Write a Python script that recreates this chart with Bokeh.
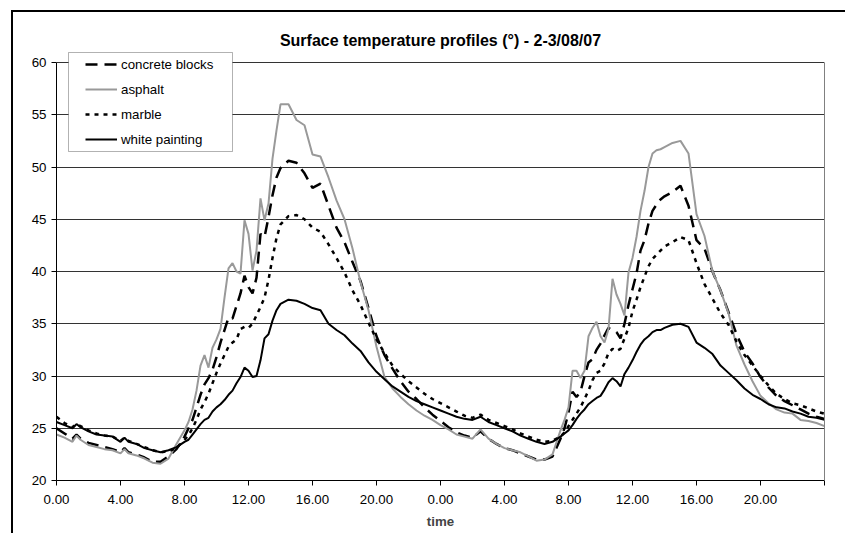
from bokeh.plotting import figure
from bokeh.models import Range1d, FixedTicker, Legend, LegendItem, BoxAnnotation, LinearAxis
from bokeh.embed import file_html
from bokeh.resources import INLINE

# ---------------- data (hours since 0.00 of day 1) ----------------
hours = [0, 0.5, 1, 1.25, 1.5, 2, 2.5, 3, 3.5, 4, 4.25, 4.5, 5, 5.5, 6, 6.5, 7, 7.5,
         8, 8.25, 8.5, 8.75, 9, 9.25, 9.5, 9.75, 10, 10.25, 10.5, 10.75, 11, 11.25,
         11.5, 11.75, 12, 12.25, 12.5, 12.75, 13, 13.25, 13.5, 13.75, 14,
         14.5, 15, 15.5, 16, 16.5, 17, 17.5, 18, 18.5, 19, 19.5, 20, 20.5, 21, 21.5,
         22, 22.5, 23, 23.5, 24, 24.5, 25, 25.5, 26, 26.5, 27, 27.5, 28, 28.5, 29,
         29.5, 30, 30.5, 31, 31.5,
         31.75, 32, 32.25, 32.5, 32.75, 33, 33.25, 33.5, 33.75, 34, 34.25, 34.5, 34.75,
         35, 35.25, 35.5, 35.75, 36, 36.25, 36.5, 36.75, 37, 37.25, 37.5, 37.75, 38,
         38.5, 39, 39.5, 40, 40.5, 41, 41.5, 42, 42.5, 43, 43.5, 44, 44.5, 45, 45.5,
         46, 46.5, 47, 47.5, 48]

concrete_blocks = [25.0, 24.5, 24.0, 24.4, 24.0, 23.6, 23.4, 23.2, 23.0, 22.7, 23.1, 22.7, 22.5, 22.2, 21.8, 21.8, 22.3, 23.0,
                   24.2, 25.0, 25.8, 27.0, 28.2, 29.2, 29.8, 30.6, 31.8, 33.2, 34.4, 35.6, 35.5, 36.7,
                   37.9, 39.6, 38.5, 37.9, 39.4, 43.6, 43.3, 45.2, 47.3, 49.0, 49.9,
                   50.6, 50.4, 49.4, 48.0, 48.4, 46.3, 44.2, 42.8, 40.9, 39.1, 36.5, 33.8, 32.0, 30.7, 29.5,
                   28.5, 27.8, 27.0, 26.3, 25.7, 25.1, 24.6, 24.3, 24.1, 24.7, 24.0, 23.5, 23.1, 22.9, 22.6,
                   22.3, 22.0, 22.0, 22.3, 24.0,
                   25.0, 26.5, 28.5, 28.0, 28.5, 30.0, 31.3, 31.6, 32.5, 33.1, 33.9, 34.6, 34.4,
                   34.2, 33.6, 35.0, 36.8, 38.3, 39.8, 42.0, 43.0, 44.6, 45.8, 46.4, 46.9, 47.2,
                   47.6, 48.2, 46.3, 43.0, 42.2, 40.0, 38.2, 36.1, 34.0, 32.3, 31.2, 29.9, 28.9, 28.1, 27.6,
                   27.2, 26.8, 26.4, 26.1, 25.9]

asphalt = [24.4, 24.1, 23.7, 24.3, 23.9, 23.4, 23.2, 23.0, 22.9, 22.6, 23.0, 22.6, 22.4, 22.1, 21.7, 21.6, 22.1, 23.5,
           24.8, 25.6, 26.8, 28.6, 31.0, 32.0, 30.8, 32.7, 33.5, 34.5, 37.5, 40.3, 40.8, 40.0,
           39.8, 44.9, 43.6, 40.1, 42.0, 47.0, 44.9, 46.5, 50.8, 53.5, 56.0,
           56.0, 54.5, 54.0, 51.2, 51.0, 49.0, 46.8, 45.0, 42.2, 39.0, 36.3, 32.8, 29.9, 28.8, 28.0,
           27.3, 26.7, 26.2, 25.8, 25.3, 24.9, 24.4, 24.2, 24.0, 24.9, 24.0, 23.5, 23.1, 22.9, 22.7,
           22.3, 21.9, 22.0, 22.5, 24.8,
           25.8, 27.0, 30.5, 30.5, 29.8, 30.5, 33.8, 34.6, 35.2, 33.8, 33.2, 34.5, 39.3,
           37.8, 36.9, 35.8, 39.9, 41.3, 43.3, 45.8, 47.7, 50.0, 51.3, 51.6, 51.7, 51.9,
           52.3, 52.5, 51.3, 45.5, 43.4, 40.0, 38.2, 36.0, 32.9, 31.1, 29.5, 28.1, 27.4, 26.8, 26.5,
           26.4, 25.8, 25.7, 25.5, 25.2]

marble = [26.1, 25.5, 25.1, 25.4, 25.2, 24.8, 24.5, 24.3, 24.2, 23.8, 24.1, 23.8, 23.5, 23.2, 22.9, 22.7, 22.8, 23.1,
          23.9, 24.3, 25.0, 25.8, 26.8, 27.5, 28.3, 29.3, 30.3, 31.2, 32.0, 32.8, 33.2, 33.5,
          34.5, 34.7, 34.6, 35.0, 35.8, 36.6, 37.5, 39.2, 41.3, 43.2, 44.5,
          45.3, 45.4, 45.0, 44.2, 43.8, 42.6, 41.3, 39.9, 38.2, 36.8, 35.1, 33.5, 32.2, 31.0, 30.2,
          29.5, 28.9, 28.3, 27.8, 27.4, 27.0, 26.6, 26.2, 26.0, 26.3, 25.8, 25.5, 25.2, 24.9, 24.5,
          24.2, 23.9, 23.7, 23.8, 24.2,
          24.6, 25.2, 25.8, 26.4, 27.0, 27.8, 28.6, 29.6, 30.3, 30.5, 31.2, 32.2, 32.6,
          32.4, 32.6, 33.6, 34.6, 36.2, 37.3, 38.5, 39.5, 40.5, 41.2, 41.6, 42.0, 42.4,
          42.8, 43.3, 43.0, 40.8, 38.8, 37.4, 36.0, 34.9, 33.3, 32.0, 31.0, 30.0, 29.1, 28.3, 27.8,
          27.4, 27.2, 26.9, 26.6, 26.4]

white_painting = [25.6, 25.3, 25.0, 25.4, 25.1, 24.7, 24.4, 24.3, 24.2, 23.7, 24.1, 23.7, 23.5, 23.1, 22.9, 22.7, 22.9, 23.2,
                  23.7, 23.9, 24.4, 24.9, 25.4, 25.8, 26.0, 26.6, 27.0, 27.3, 27.7, 28.2, 28.6, 29.3,
                  29.9, 30.8, 30.5, 29.9, 30.0, 31.5, 33.6, 34.0, 35.3, 36.3, 36.9,
                  37.3, 37.2, 36.9, 36.5, 36.3, 35.0, 34.4, 33.9, 33.1, 32.4, 31.3, 30.4, 29.7, 29.0, 28.5,
                  28.0, 27.6, 27.3, 27.0, 26.7, 26.4, 26.1, 25.9, 25.8, 26.1, 25.6, 25.3, 25.0, 24.7, 24.3,
                  24.0, 23.7, 23.5, 23.7, 24.2,
                  24.5, 24.8, 25.3, 25.9, 26.4, 26.8, 27.3, 27.6, 27.9, 28.1, 28.7, 29.4, 29.8,
                  29.5, 29.0, 30.2, 30.8, 31.5, 32.3, 33.0, 33.5, 33.8, 34.2, 34.4, 34.4, 34.6,
                  34.9, 35.0, 34.7, 33.2, 32.7, 32.1, 31.0, 30.3, 29.6, 28.8, 28.2, 27.8, 27.3, 27.0, 26.9,
                  26.6, 26.4, 26.1, 26.0, 25.8]

series_names = ["concrete blocks", "asphalt", "marble", "white painting"]

x_ticks = [0, 4, 8, 12, 16, 20, 24, 28, 32, 36, 40, 44, 48]
x_tick_labels = ["0.00", "4.00", "8.00", "12.00", "16.00", "20.00",
                 "0.00", "4.00", "8.00", "12.00", "16.00", "20.00", ""]
y_ticks = [20, 25, 30, 35, 40, 45, 50, 55, 60]
y_tick_labels = ["20", "25", "30", "35", "40", "45", "50", "55", "60"]

title_text = "Surface temperature profiles (°) - 2-3/08/07"
x_label = "time"

# ---------------- figure ----------------
FONT = "Liberation Sans"
# a little head room above 60 so the legend box (which sits above the 60 line) is not clipped
p = figure(width=834, height=523, output_backend="svg", toolbar_location=None,
           x_range=Range1d(0, 48), y_range=Range1d(20, 61.15),
           min_border_left=43, min_border_right=23, min_border_top=38, min_border_bottom=55,
           background_fill_color="white", border_fill_color="white")
# outer chart-area frame (only its top and left edges are inside the picture)
p.styles = {"margin-left": "11px", "margin-top": "10px",
            "border-left": "2px solid black", "border-top": "2px solid black"}

p.title.text = title_text
p.title.align = "center"
p.title.text_font = FONT
p.title.text_font_size = "16px"
p.title.text_font_style = "bold"
p.title.text_color = "black"
p.title.standoff = 3

p.outline_line_color = None

p.xgrid.visible = False
p.ygrid.ticker = FixedTicker(ticks=y_ticks)
p.ygrid.grid_line_color = "#333333"
p.ygrid.grid_line_width = 1

for ax in (p.xaxis[0], p.yaxis[0]):
    ax.axis_line_color = "black"
    ax.axis_line_width = 1
    ax.major_tick_line_color = "black"
    ax.major_tick_out = 5
    ax.major_tick_in = 0
    ax.minor_tick_line_color = None
    ax.major_label_text_font = FONT
    ax.major_label_text_font_size = "13.3px"
    ax.major_label_text_color = "black"

p.xaxis.ticker = FixedTicker(ticks=x_ticks)
p.xaxis.major_label_overrides = {float(t): l for t, l in zip(x_ticks, x_tick_labels)}
p.xaxis.major_label_standoff = 9
p.xaxis.axis_label = x_label
p.xaxis.axis_label_text_font = FONT
p.xaxis.axis_label_text_font_size = "13.3px"
p.xaxis.axis_label_text_font_style = "bold"
p.xaxis.axis_label_standoff = 7

p.yaxis.ticker = FixedTicker(ticks=y_ticks)
p.yaxis.bounds = (20, 60)
p.yaxis.major_label_overrides = {float(t): l for t, l in zip(y_ticks, y_tick_labels)}
p.yaxis.major_label_standoff = 5

# grey right border of the plot area
right_axis = LinearAxis(ticker=FixedTicker(ticks=[]), bounds=(20, 60),
                        axis_line_color="#808080", axis_line_width=1,
                        major_tick_line_color=None, minor_tick_line_color=None)
p.add_layout(right_axis, "right")

styles = [
    dict(line_color="black", line_width=2.5, line_dash="12 7"),
    dict(line_color="#999999", line_width=2),
    dict(line_color="black", line_width=2.5, line_dash="4 5"),
    dict(line_color="black", line_width=2),
]
values = [concrete_blocks, asphalt, marble, white_painting]
renderers = []
for vals, st in zip(values, styles):
    renderers.append(p.line(hours, vals, **st))

# legend box
legend_box = BoxAnnotation(left=12, right=176, bottom=329, top=428,
                           left_units="screen", right_units="screen",
                           bottom_units="screen", top_units="screen",
                           fill_color="white", fill_alpha=1,
                           line_color="black", line_width=1)
p.add_layout(legend_box)

legend = Legend(items=[LegendItem(label=n, renderers=[r]) for n, r in zip(series_names, renderers)],
                location=(29, 331), padding=0, margin=0, spacing=5,
                label_height=20, glyph_height=20, glyph_width=32, label_standoff=4,
                border_line_color=None, background_fill_alpha=0,
                label_text_font=FONT, label_text_font_size="13.3px", label_text_color="black")
p.add_layout(legend)

open("out.html", "w").write(file_html(p, INLINE))
